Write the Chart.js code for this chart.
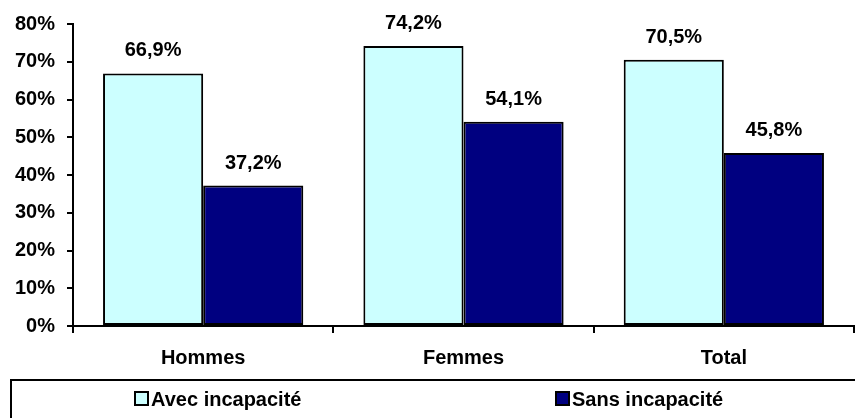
<!DOCTYPE html>
<html>
<head>
<meta charset="utf-8">
<script src="https://cdn.jsdelivr.net/npm/chart.js@4/dist/chart.umd.min.js"></script>
<style>
  html, body { margin: 0; padding: 0; background: #fff; }
  #wrap { width: 855px; height: 418px; position: relative; }
</style>
</head>
<body>
<div id="wrap"><canvas id="chart"></canvas></div>
<script>
// Categories and series
const categories = ["Hommes", "Femmes", "Total"];
const avecIncapacite = [66.9, 74.2, 70.5];
const sansIncapacite = [37.2, 54.1, 45.8];
const seriesNames = ["Avec incapacité", "Sans incapacité"];

const FONT = "'Liberation Sans', Arial, sans-serif";

// Value labels above each bar, e.g. "66,9%"
const valueLabels = {
  id: "valueLabels",
  afterDatasetsDraw(chart) {
    const ctx = chart.ctx;
    ctx.save();
    ctx.font = "bold 20px " + FONT;
    ctx.fillStyle = "#000";
    ctx.textAlign = "center";
    ctx.textBaseline = "alphabetic";
    chart.data.datasets.forEach((ds, i) => {
      chart.getDatasetMeta(i).data.forEach((bar, j) => {
        const txt = ds.data[j].toFixed(1).replace(".", ",") + "%";
        ctx.fillText(txt, bar.x, bar.y - 17);
      });
    });
    ctx.restore();
  },
};

// Boxed legend along the bottom
const boxLegend = {
  id: "boxLegend",
  afterDraw(chart) {
    const ctx = chart.ctx;
    ctx.save();
    ctx.strokeStyle = "#000";
    ctx.lineWidth = 2;
    ctx.strokeRect(11, 380, 860, 60);
    const xs = [135, 556];
    ctx.font = "bold 20px " + FONT;
    ctx.textBaseline = "alphabetic";
    ctx.textAlign = "left";
    chart.data.datasets.forEach((ds, i) => {
      ctx.fillStyle = ds.backgroundColor;
      ctx.fillRect(xs[i], 392, 13, 13);
      ctx.lineWidth = 2;
      ctx.strokeStyle = "#000";
      ctx.strokeRect(xs[i], 392, 13, 13);
      ctx.fillStyle = "#000";
      ctx.fillText(ds.label, xs[i] + 16, 406);
    });
    ctx.restore();
  },
};

new Chart(document.getElementById("chart"), {
  type: "bar",
  data: {
    labels: categories,
    datasets: [
      {
        label: seriesNames[0],
        data: avecIncapacite,
        backgroundColor: "#CCFFFF",
        borderColor: "#000",
        borderWidth: 2,
        borderSkipped: false,
      },
      {
        label: seriesNames[1],
        data: sansIncapacite,
        backgroundColor: "#000080",
        borderColor: "#000",
        borderWidth: 2,
        borderSkipped: false,
      },
    ],
  },
  options: {
    responsive: true,
    maintainAspectRatio: false,
    animation: false,
    categoryPercentage: 200 / 260,
    barPercentage: 1,
    layout: { padding: { top: 19, right: 1, bottom: 38, left: 0 } },
    plugins: {
      legend: { display: false },
      tooltip: { enabled: false },
    },
    scales: {
      x: {
        afterFit: (s) => { s.height = 54; },
        grid: {
          drawOnChartArea: false,
          drawTicks: true,
          tickLength: 7,
          color: "#000",
          lineWidth: 2,
        },
        border: { color: "#000", width: 2 },
        ticks: {
          color: "#000",
          padding: 13,
          font: { family: FONT, size: 20, weight: "bold" },
        },
      },
      y: {
        min: 0,
        max: 80,
        afterFit: (s) => { s.width = 73; },
        grid: {
          drawOnChartArea: false,
          drawTicks: true,
          tickLength: 6,
          color: "#000",
          lineWidth: 2,
        },
        border: { color: "#000", width: 2 },
        ticks: {
          stepSize: 10,
          color: "#000",
          padding: 12,
          font: { family: FONT, size: 20, weight: "bold" },
          callback: (v) => v + "%",
        },
      },
    },
  },
  plugins: [valueLabels, boxLegend],
});
</script>
</body>
</html>
